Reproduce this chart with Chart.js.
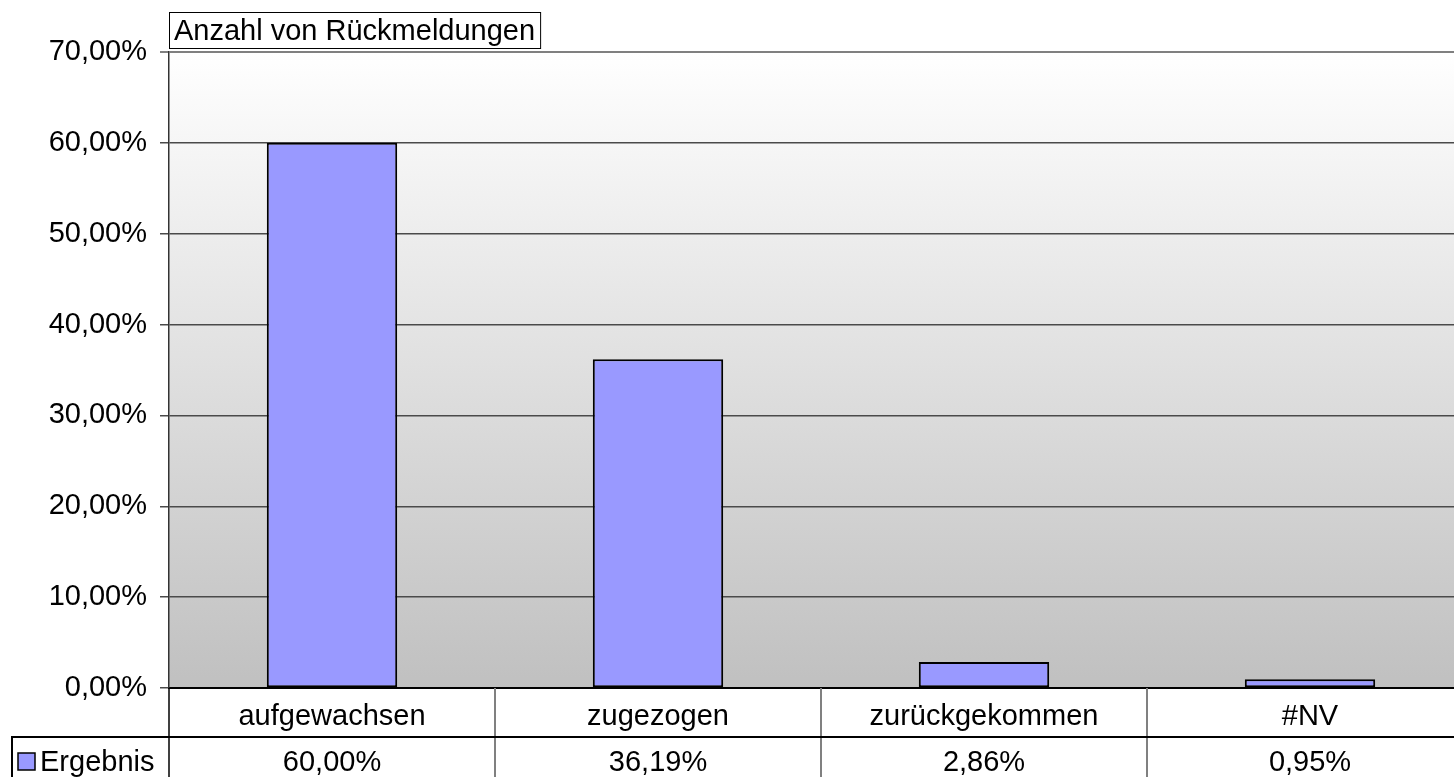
<!DOCTYPE html>
<html>
<head>
<meta charset="utf-8">
<script src="https://cdn.jsdelivr.net/npm/chart.js@4.4.1/dist/chart.umd.min.js"></script>
<style>
  html, body { margin: 0; padding: 0; background: #fff; overflow: hidden; }
  #wrap { position: relative; width: 1473px; height: 777px; }
</style>
</head>
<body>
<div id="wrap"><canvas id="chart"></canvas></div>
<script>
"use strict";

const title = 'Anzahl von Rückmeldungen';
const categories = ['aufgewachsen', 'zugezogen', 'zurückgekommen', '#NV'];
const seriesName = 'Ergebnis';
const values = [60.00, 36.19, 2.86, 0.95];
const yTicks = [0, 10, 20, 30, 40, 50, 60, 70];

const FONT = '"Liberation Sans", Arial, sans-serif';
const FONT_SIZE = 29;
const BAR_COLOR = '#9999ff';

/* formats a number the German way: 60,00% */
const fmtPct = (v) => v.toFixed(2).replace('.', ',') + '%';

/* gradient behind the plot, white on top to grey at the bottom. */
const backgroundPlugin = {
    id: 'plotBackground',
    beforeDraw: (chart) => {
        const { ctx, chartArea: a } = chart;
        const g = ctx.createLinearGradient(0, a.top, 0, a.bottom);
        g.addColorStop(0, '#ffffff');
        g.addColorStop(1, '#c0c0c0');
        ctx.save();
        ctx.fillStyle = g;
        ctx.fillRect(a.left, a.top, a.right - a.left, a.bottom - a.top);
        ctx.restore();
    }
};

/* title box and the data table below the axis. */
const tablePlugin = {
    id: 'dataTable',
    afterDraw: (chart) => {
        const { ctx, chartArea: a, scales } = chart;
        const x = scales.x;
        const H = chart.height;
        const rowLine = a.bottom + 49;
        ctx.save();

        // title with frame
        ctx.font = `${FONT_SIZE}px ${FONT}`;
        const tw = ctx.measureText(title).width;
        ctx.fillStyle = '#fff';
        ctx.fillRect(a.left, 12, tw + 10, 36);
        ctx.strokeStyle = '#000';
        ctx.lineWidth = 1;
        ctx.strokeRect(a.left + 0.5, 12.5, tw + 10, 36);
        ctx.fillStyle = '#000';
        ctx.textBaseline = 'middle';
        ctx.textAlign = 'left';
        ctx.fillText(title, a.left + 5, 32);

        // vertical separators between categories
        ctx.strokeStyle = '#808080';
        ctx.lineWidth = 2;
        for (let i = 1; i < categories.length; i++) {
            const px = Math.round((x.getPixelForValue(i - 1) + x.getPixelForValue(i)) / 2);
            ctx.beginPath();
            ctx.moveTo(px, a.bottom);
            ctx.lineTo(px, H);
            ctx.stroke();
        }

        // axis line continued through the table
        ctx.strokeStyle = '#000';
        ctx.lineWidth = 1.5;
        ctx.beginPath();
        ctx.moveTo(a.left, a.bottom);
        ctx.lineTo(a.left, H);
        ctx.stroke();

        // row frame for the series
        ctx.lineWidth = 2;
        ctx.beginPath();
        ctx.moveTo(12, H);
        ctx.lineTo(12, rowLine);
        ctx.lineTo(a.right, rowLine);
        ctx.stroke();

        // legend swatch + name
        ctx.fillStyle = BAR_COLOR;
        ctx.fillRect(18, 753, 17, 17);
        ctx.strokeStyle = '#000';
        ctx.lineWidth = 1.5;
        ctx.strokeRect(18, 753, 17, 17);
        ctx.fillStyle = '#000';
        ctx.textAlign = 'left';
        ctx.fillText(seriesName, 40, 763);

        // values
        ctx.textAlign = 'center';
        values.forEach((v, i) => {
            ctx.fillText(fmtPct(v), x.getPixelForValue(i), 763);
        });
        ctx.restore();
    }
};

const ctx = document.getElementById('chart').getContext('2d');
const myChart = new Chart(ctx, {
    type: 'bar',
    data: {
        labels: categories,
        datasets: [{
            label: seriesName,
            data: values,
            backgroundColor: BAR_COLOR,
            borderColor: '#000',
            borderWidth: 2,
            borderSkipped: false,
            barPercentage: 0.4,
            categoryPercentage: 1.0
        }]
    },
    options: {
        responsive: true,
        maintainAspectRatio: false,
        animation: false,
        devicePixelRatio: 1,
        layout: { padding: { top: 52, left: 0, right: 0, bottom: 0 } },
        plugins: {
            legend: { display: false },
            title: { display: false },
            tooltip: { enabled: false }
        },
        scales: {
            x: {
                grid: { display: false, drawTicks: false, tickLength: 0 },
                border: { display: true, color: '#000', width: 2 },
                ticks: {
                    color: '#000',
                    font: { family: FONT, size: FONT_SIZE },
                    padding: 12,
                    maxRotation: 0,
                    autoSkip: false
                },
                afterFit: (scale) => { scale.height = 89; }
            },
            y: {
                min: 0,
                max: 70,
                afterBuildTicks: (scale) => {
                    scale.ticks = yTicks.map(v => ({ value: v }));
                },
                grid: {
                    color: (c) => c.tick && c.tick.value === 70 ? '#808080' : '#4a4a4a',
                    lineWidth: (c) => c.tick && c.tick.value === 70 ? 2 : 1.5,
                    tickLength: 9,
                    drawTicks: true
                },
                border: { display: true, color: '#333', width: 1.5 },
                ticks: {
                    color: '#000',
                    font: { family: FONT, size: FONT_SIZE },
                    padding: 13,
                    callback: (v) => fmtPct(v)
                },
                afterFit: (scale) => { scale.width = 169; }
            }
        }
    },
    plugins: [backgroundPlugin, tablePlugin]
});
</script>
</body>
</html>
